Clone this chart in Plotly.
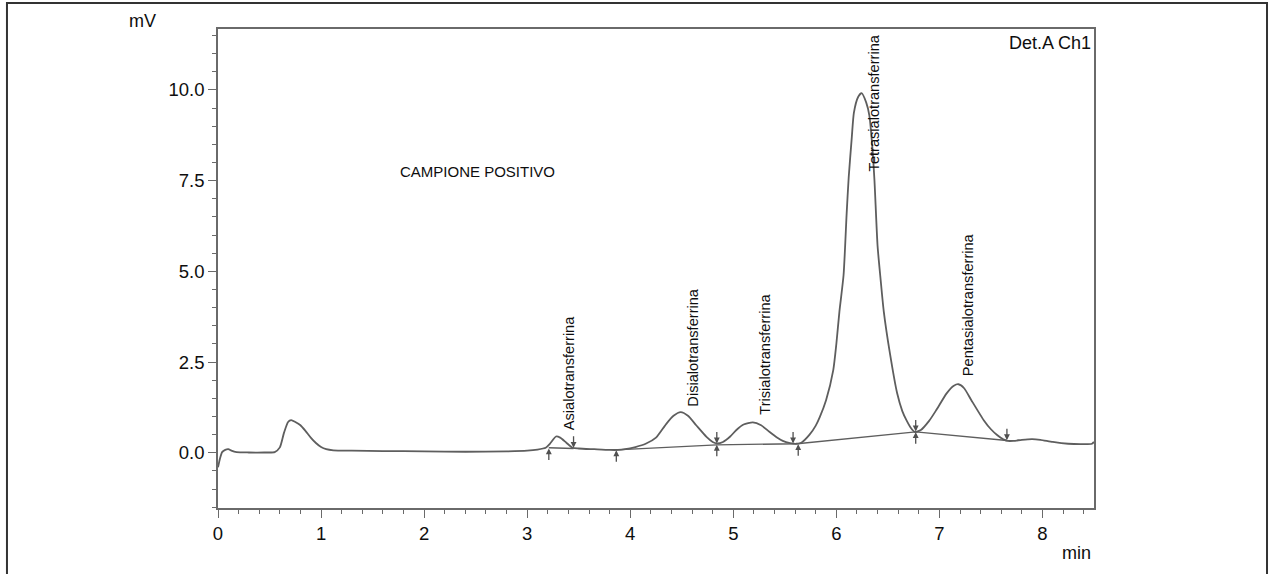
import plotly.graph_objects as go

# ---- data ----
time_min = [0.00, 0.02, 0.04, 0.07, 0.10, 0.13, 0.18, 0.30, 0.45, 0.55,
            0.60, 0.64, 0.68, 0.71, 0.75, 0.80, 0.85, 0.90, 0.95, 1.00,
            1.05, 1.12, 1.30, 1.60, 2.00, 2.40, 2.80, 3.00, 3.10, 3.18,
            3.22, 3.28, 3.32, 3.38, 3.44, 3.50, 3.65, 3.80, 3.88, 3.95,
            4.05, 4.15, 4.25, 4.35, 4.42, 4.49, 4.56, 4.64, 4.74, 4.80,
            4.84, 4.90, 4.97, 5.03, 5.10, 5.19, 5.27, 5.35, 5.42, 5.48,
            5.55, 5.61, 5.66, 5.74, 5.80, 5.84, 5.90, 5.97, 6.00, 6.03,
            6.07, 6.10, 6.12, 6.15, 6.17, 6.21, 6.245, 6.29, 6.32, 6.35,
            6.37, 6.40, 6.43, 6.46, 6.52, 6.59, 6.64, 6.68, 6.72, 6.76,
            6.82, 6.90, 6.97, 7.07, 7.14, 7.185, 7.24, 7.31, 7.43, 7.50,
            7.56, 7.62, 7.66, 7.72, 7.80, 7.90, 7.98, 8.10, 8.25, 8.40,
            8.48, 8.50]
signal_mv = [-0.40, -0.15, 0.02, 0.08, 0.10, 0.06, 0.02, 0.01, 0.01, 0.02,
             0.15, 0.55, 0.85, 0.90, 0.85, 0.76, 0.60, 0.42, 0.27, 0.16,
             0.10, 0.07, 0.06, 0.05, 0.04, 0.03, 0.04, 0.06, 0.09, 0.14,
             0.25, 0.45, 0.42, 0.28, 0.14, 0.12, 0.10, 0.08, 0.08, 0.10,
             0.16, 0.25, 0.42, 0.80, 1.02, 1.12, 1.02, 0.76, 0.44, 0.30,
             0.26, 0.30, 0.45, 0.63, 0.78, 0.84, 0.76, 0.58, 0.43, 0.33,
             0.27, 0.25, 0.28, 0.50, 0.75, 0.99, 1.45, 2.28, 3.00, 3.90,
             4.90, 6.60, 7.60, 8.70, 9.37, 9.80, 9.91, 9.65, 9.30, 8.40,
             7.50, 5.70, 4.76, 3.90, 2.74, 1.64, 1.15, 0.90, 0.70, 0.58,
             0.63, 0.88, 1.18, 1.64, 1.85, 1.89, 1.78, 1.45, 0.90, 0.65,
             0.49, 0.37, 0.33, 0.33, 0.36, 0.38, 0.36, 0.30, 0.25, 0.24,
             0.25, 0.30]

# integration baselines (two drawn segments)
base1_t = [3.21, 3.45]
base1_v = [0.14, 0.12]
base2_t = [3.865, 4.84, 5.62, 6.77, 7.655]
base2_v = [0.08, 0.22, 0.25, 0.58, 0.34]

# peak start (up) and end (down) markers
start_t = [3.21, 3.865, 4.84, 5.63, 6.77]
start_v = [0.12, 0.07, 0.22, 0.24, 0.57]
end_t = [3.45, 4.84, 5.58, 6.77, 7.655]
end_v = [0.14, 0.26, 0.26, 0.59, 0.35]

peak_names = ["Asialotransferrina", "Disialotransferrina", "Trisialotransferrina",
              "Tetrasialotransferrina", "Pentasialotransferrina"]
peak_label_t = [3.40, 4.60, 5.31, 6.36, 7.28]
peak_label_v = [0.58, 1.22, 0.99, 7.70, 2.05]

sample_text = "CAMPIONE POSITIVO"
detector_text = "Det.A Ch1"
y_unit = "mV"
x_unit = "min"

CURVE = "#5e5e5e"
TXT = "#0e0e0e"
FONT = "Liberation Sans, Arial, sans-serif"

fig = go.Figure()
fig.add_trace(go.Scatter(x=time_min, y=signal_mv, mode="lines",
                         line=dict(color=CURVE, width=1.8, shape="spline", smoothing=0.6),
                         hoverinfo="skip", showlegend=False))
fig.add_trace(go.Scatter(x=base1_t, y=base1_v, mode="lines",
                         line=dict(color=CURVE, width=1.3), showlegend=False))
fig.add_trace(go.Scatter(x=base2_t, y=base2_v, mode="lines",
                         line=dict(color=CURVE, width=1.3), showlegend=False))

ann = []
for t, v in zip(start_t, start_v):
    ann.append(dict(x=t, y=v, xref="x", yref="y", text="", showarrow=True,
                    ax=0, ay=13, arrowhead=2, arrowsize=0.9, arrowwidth=1.3,
                    arrowcolor="#505050", standoff=0))
for t, v in zip(end_t, end_v):
    ann.append(dict(x=t, y=v, xref="x", yref="y", text="", showarrow=True,
                    ax=0, ay=-13, arrowhead=2, arrowsize=0.9, arrowwidth=1.3,
                    arrowcolor="#505050", standoff=0))
for name, t, v in zip(peak_names, peak_label_t, peak_label_v):
    ann.append(dict(x=t, y=v, xref="x", yref="y", text=name, showarrow=False,
                    textangle=-90, xanchor="center", yanchor="bottom",
                    font=dict(size=14.6, color=TXT, family=FONT)))

ann.append(dict(x=1.75, y=7.74, xref="x", yref="y", text=sample_text, showarrow=False,
                xanchor="left", yanchor="middle", font=dict(size=15, color=TXT, family=FONT)))
ann.append(dict(x=0.999, y=0.971, xref="paper", yref="paper", text=detector_text,
                showarrow=False, xanchor="right", yanchor="middle",
                font=dict(size=18, color=TXT, family=FONT)))
ann.append(dict(x=-0.086, y=1.017, xref="paper", yref="paper", text=y_unit,
                showarrow=False, xanchor="center", yanchor="middle",
                font=dict(size=18, color=TXT, family=FONT)))
ann.append(dict(x=0.999, y=-0.093, xref="paper", yref="paper", text=x_unit,
                showarrow=False, xanchor="right", yanchor="middle",
                font=dict(size=18, color=TXT, family=FONT)))

axis_common = dict(showgrid=False, zeroline=False, showline=True, mirror=True,
                   linecolor="#6a6a6a", linewidth=1.6, ticks="outside",
                   tickcolor="#6a6a6a", tickwidth=1.4, ticklen=8,
                   tickfont=dict(size=18.5, color=TXT, family=FONT))

fig.update_xaxes(range=[0, 8.5], dtick=1, tick0=0,
                 minor=dict(dtick=0.2, tick0=0, ticks="outside", ticklen=4,
                            tickcolor="#6a6a6a", tickwidth=1.2),
                 **axis_common)
fig.update_yaxes(range=[-1.52, 11.68], dtick=2.5, tick0=0, tickformat=".1f",
                 minor=dict(dtick=0.5, tick0=0, ticks="outside", ticklen=4,
                            tickcolor="#6a6a6a", tickwidth=1.2),
                 **axis_common)

fig.update_layout(
    width=1273, height=574,
    margin=dict(l=218, r=179, t=29, b=66),
    paper_bgcolor="white", plot_bgcolor="white",
    annotations=ann,
    shapes=[dict(type="rect", xref="paper", yref="paper",
                 x0=-0.2409, x1=1.1975, y0=-0.16, y1=1.0543,
                 line=dict(color="#333333", width=2), fillcolor="rgba(0,0,0,0)",
                 layer="below")],
    showlegend=False,
)

fig.write_html("out.html")
